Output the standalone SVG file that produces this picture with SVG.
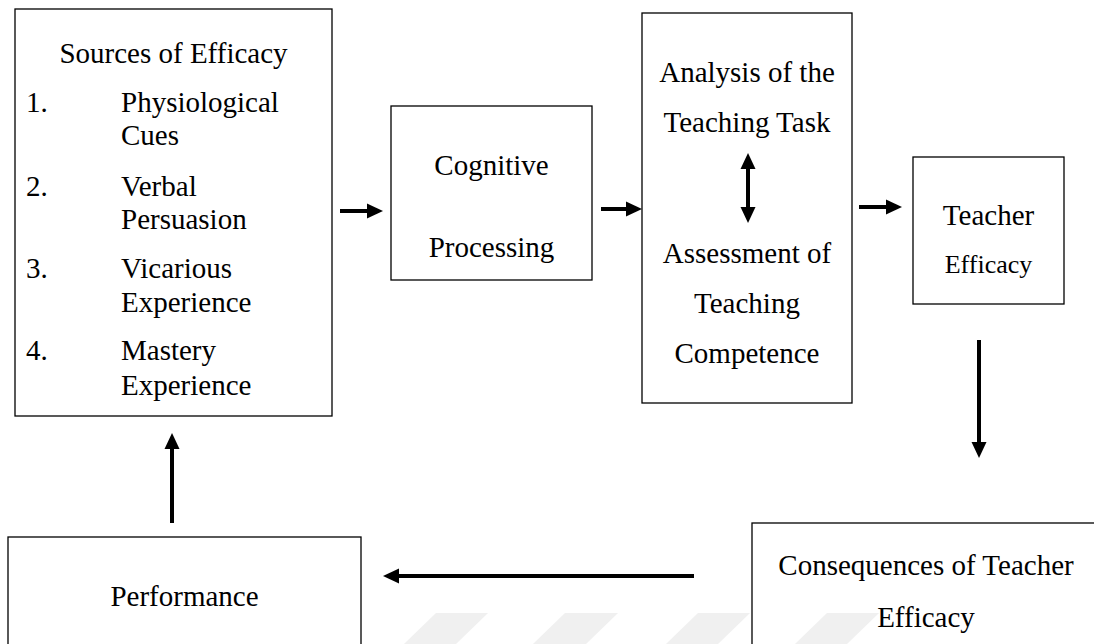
<svg xmlns="http://www.w3.org/2000/svg" width="1094" height="644" viewBox="0 0 1094 644">
<style>
.box{fill:none;stroke:#000;stroke-width:1.3}
.t{font-family:"Liberation Serif","Times New Roman",serif;font-size:29px;fill:#000}
.c{text-anchor:middle}
.con{stroke:#000;stroke-width:4;fill:none}
.wm{fill:#f0f0f0}
</style>
<defs>
<marker id="ah" markerUnits="userSpaceOnUse" markerWidth="17" markerHeight="15" refX="1" refY="7.5" orient="auto-start-reverse" overflow="visible">
<path d="M0,0 L16,7.5 L0,15 Z" fill="#000"/>
</marker>
</defs>
<rect width="1094" height="644" fill="#fff"/>
<g id="watermark">
<polygon class="wm" points="436,613 488,613 456,644 404,644"/>
<polygon class="wm" points="565,613 618,613 586,644 533,644"/>
<polygon class="wm" points="698,613 750,613 718,644 666,644"/>
<polygon class="wm" points="827,613 879,613 847,644 795,644"/>
</g>
<g id="sources">
<rect class="box" x="15" y="9" width="317" height="407"/>
<text class="t c" x="173.5" y="63">Sources of Efficacy</text>
<text class="t" x="26" y="112">1.</text>
<text class="t" x="121" y="112">Physiological</text>
<text class="t" x="121" y="145">Cues</text>
<text class="t" x="26" y="196">2.</text>
<text class="t" x="121" y="196">Verbal</text>
<text class="t" x="121" y="229">Persuasion</text>
<text class="t" x="26" y="278">3.</text>
<text class="t" x="121" y="278">Vicarious</text>
<text class="t" x="121" y="312">Experience</text>
<text class="t" x="26" y="360">4.</text>
<text class="t" x="121" y="360">Mastery</text>
<text class="t" x="121" y="395">Experience</text>
</g>
<g id="cognitive">
<rect class="box" x="391" y="106" width="201" height="174"/>
<text class="t c" x="491.5" y="175">Cognitive</text>
<text class="t c" x="491.5" y="257">Processing</text>
</g>
<g id="analysis">
<rect class="box" x="642" y="13" width="210" height="390"/>
<text class="t c" x="747" y="82">Analysis of the</text>
<text class="t c" x="747" y="132">Teaching Task</text>
<text class="t c" x="747" y="263">Assessment of</text>
<text class="t c" x="747" y="313">Teaching</text>
<text class="t c" x="747" y="363">Competence</text>
</g>
<g id="teacher-efficacy">
<rect class="box" x="913" y="157" width="151" height="147"/>
<text class="t c" x="988.5" y="225">Teacher</text>
<text class="t c" x="988.5" y="273" style="font-size:26px">Efficacy</text>
</g>
<g id="consequences">
<rect class="box" x="752" y="523" width="360" height="140"/>
<text class="t c" x="926" y="575">Consequences of Teacher</text>
<text class="t c" x="926" y="627">Efficacy</text>
</g>
<g id="performance">
<rect class="box" x="8" y="537" width="353" height="120"/>
<text class="t c" x="184.5" y="606">Performance</text>
</g>
<g id="connectors">
<line class="con" x1="340" y1="211" x2="368" y2="211" marker-end="url(#ah)"/>
<line class="con" x1="601" y1="209" x2="627" y2="209" marker-end="url(#ah)"/>
<line class="con" x1="859" y1="207" x2="887" y2="207" marker-end="url(#ah)"/>
<line class="con" x1="748" y1="168" x2="748" y2="208" marker-start="url(#ah)" marker-end="url(#ah)"/>
<line class="con" x1="979" y1="340" x2="979" y2="443" marker-end="url(#ah)"/>
<line class="con" x1="694" y1="576" x2="398" y2="576" marker-end="url(#ah)"/>
<line class="con" x1="172" y1="523" x2="172" y2="448" marker-end="url(#ah)"/>
</g>
</svg>
